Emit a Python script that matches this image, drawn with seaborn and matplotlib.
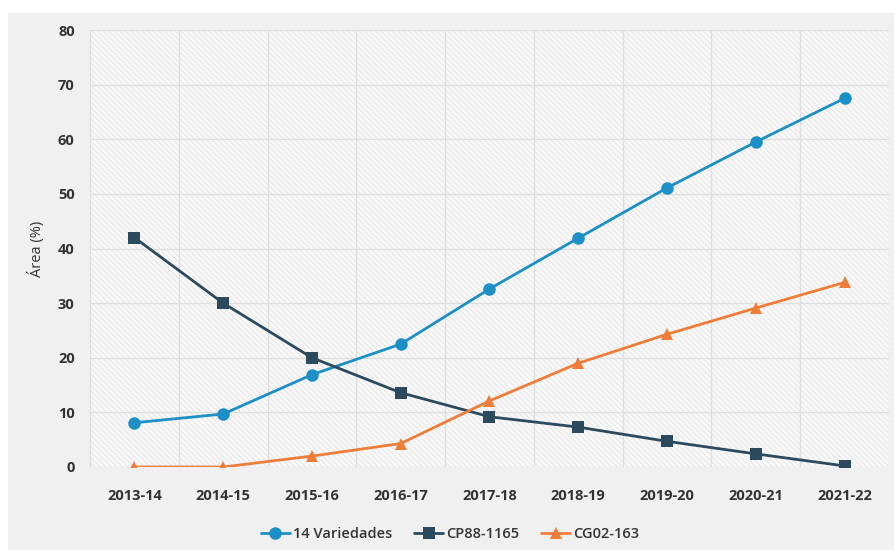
import matplotlib
matplotlib.use("Agg")
import matplotlib.pyplot as plt
from matplotlib.patches import Rectangle
import seaborn as sns
import pandas as pd

# Zafras (ciclos) and share of cultivated area per variety group
zafras = ["2013-14", "2014-15", "2015-16", "2016-17", "2017-18",
          "2018-19", "2019-20", "2020-21", "2021-22"]
variedades_14 = [8.1, 9.7, 16.9, 22.5, 32.6, 41.9, 51.1, 59.5, 67.5]
cp88_1165 = [42.0, 30.0, 20.0, 13.6, 9.2, 7.3, 4.7, 2.4, 0.2]
cg02_163 = [0.0, 0.0, 2.0, 4.3, 12.1, 19.0, 24.3, 29.1, 33.8]
series_names = ["14 Variedades", "CP88-1165", "CG02-163"]
y_ticks = [0, 10, 20, 30, 40, 50, 60, 70, 80]

df = pd.DataFrame({
    "Zafra": zafras * 3,
    "Area": variedades_14 + cp88_1165 + cg02_163,
    "Serie": [series_names[0]] * 9 + [series_names[1]] * 9 + [series_names[2]] * 9,
})

sns.set_style("white")
plt.rcParams["font.family"] = ["Open Sans", "DejaVu Sans"]
plt.rcParams["hatch.color"] = "#e4e4e4"
plt.rcParams["hatch.linewidth"] = 0.6

palette = {"14 Variedades": "#1b8fc6", "CP88-1165": "#2c4a5e", "CG02-163": "#ef7d3a"}
markers = {"14 Variedades": "o", "CP88-1165": "s", "CG02-163": "^"}

fig = plt.figure(figsize=(8.94, 5.5), dpi=100)
fig.patch.set_facecolor("#f0f0f0")
# white margin strips along the top and left edges
fig.patches.append(Rectangle((0, 1 - 13 / 550), 1, 13 / 550, transform=fig.transFigure,
                             facecolor="white", edgecolor="none", zorder=-10))
fig.patches.append(Rectangle((0, 0), 8 / 894, 1, transform=fig.transFigure,
                             facecolor="white", edgecolor="none", zorder=-10))

ax = fig.add_axes([90 / 894, 83 / 550, 799 / 894, 437 / 550])
ax.set_facecolor("#f8f8f8")
# fine diagonal texture inside the plotting area
ax.add_patch(Rectangle((0, 0), 1, 1, transform=ax.transAxes, facecolor="none",
                       edgecolor="#e4e4e4", hatch="\\\\\\\\\\\\", linewidth=0, zorder=0))

sns.lineplot(data=df, x="Zafra", y="Area", hue="Serie", style="Serie",
             palette=palette, markers=markers, dashes=False, sort=False,
             linewidth=2.0, markersize=9, markeredgewidth=0, ax=ax, zorder=3)

ax.set_xlim(-0.5, len(zafras) - 0.5)
ax.set_ylim(0, 80)
ax.set_yticks(y_ticks)
ax.set_xticks(range(len(zafras)))
ax.set_xticklabels(zafras)

# vertical gridlines sit between categories
for i in range(len(zafras) + 1):
    ax.axvline(i - 0.5, color="#dedede", linewidth=0.9, zorder=1)
for t in y_ticks:
    ax.axhline(t, color="#dedede", linewidth=0.9, zorder=1)

for s in ax.spines.values():
    s.set_visible(False)

ax.tick_params(axis="both", length=0, labelsize=10.5, labelcolor="#333333")
ax.tick_params(axis="x", pad=16)
ax.tick_params(axis="y", pad=11)
for lab in ax.get_xticklabels() + ax.get_yticklabels():
    lab.set_fontweight("bold")

ax.set_xlabel("")
ax.set_ylabel("Área (%)", fontsize=10.5, color="#333333", labelpad=9)

handles, labels = ax.get_legend_handles_labels()
ax.legend(handles, labels, loc="center", bbox_to_anchor=((450 - 90) / 799, -(534 - 467) / 437),
          ncol=3, frameon=False, fontsize=10.5, handlelength=2.0, handletextpad=0.2,
          columnspacing=1.5, labelcolor="#333333")
for t in ax.get_legend().get_texts():
    t.set_fontweight("semibold")

fig.savefig("out.png", dpi=100, facecolor=fig.get_facecolor())
